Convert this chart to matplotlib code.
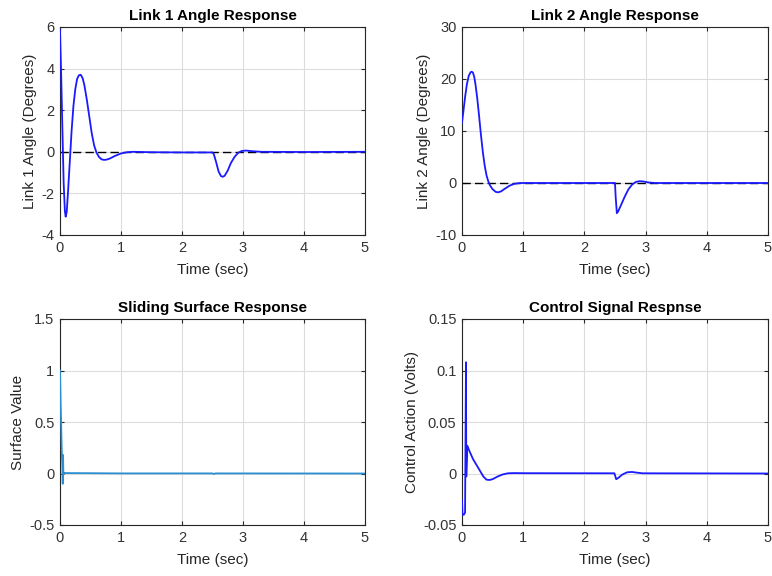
import numpy as np
import matplotlib
matplotlib.use('Agg')
import matplotlib.pyplot as plt

plt.rcParams['font.family'] = ['Liberation Sans', 'DejaVu Sans']

# link 1 angle (deg)
t_link1 = [0.00, 0.02, 0.04, 0.06, 0.08, 0.093, 0.11, 0.13, 0.16, 0.19, 0.22, 0.25,
           0.28, 0.31, 0.34, 0.37, 0.40, 0.44, 0.48, 0.52, 0.56, 0.60, 0.64, 0.68,
           0.72, 0.76, 0.82, 0.90, 1.00, 1.10, 1.20, 1.50, 2.00, 2.50, 2.52, 2.56,
           2.60, 2.64, 2.67, 2.70, 2.75, 2.80, 2.86, 2.92, 2.98, 3.05, 3.15, 3.30,
           4.00, 5.00]
link1 = [5.85, 3.6, 1.0, -1.5, -2.85, -3.12, -2.9, -2.0, -0.5, 1.0, 2.2, 3.0,
         3.5, 3.68, 3.70, 3.55, 3.2, 2.5, 1.7, 0.9, 0.3, -0.05, -0.25, -0.36,
         -0.39, -0.38, -0.32, -0.2, -0.08, -0.02, 0.0, -0.02, -0.03, -0.03, -0.1, -0.5,
         -0.95, -1.17, -1.2, -1.15, -0.9, -0.55, -0.25, -0.05, 0.04, 0.06, 0.03, 0.0,
         -0.01, 0.0]

# link 2 angle (deg)
t_link2 = [0.00, 0.02, 0.05, 0.08, 0.11, 0.14, 0.16, 0.18, 0.20, 0.22, 0.25, 0.28,
           0.31, 0.34, 0.37, 0.40, 0.43, 0.46, 0.50, 0.55, 0.59, 0.64, 0.70, 0.78,
           0.86, 0.95, 2.50, 2.51, 2.53, 2.55, 2.60, 2.66, 2.72, 2.78, 2.84, 2.90,
           2.96, 3.05, 3.15, 5.00]
link2 = [11.6, 13.5, 16.5, 19.0, 20.6, 21.3, 21.4, 21.2, 20.4, 19.0, 16.2, 12.8,
         9.2, 6.0, 3.4, 1.5, 0.3, -0.5, -1.2, -1.7, -1.8, -1.6, -1.1, -0.5,
         -0.15, 0.0, 0.0, -2.5, -5.8, -5.5, -4.2, -2.6, -1.2, -0.3, 0.2, 0.35,
         0.3, 0.1, 0.0, 0.0]

# sliding surface
t_surf = [0.00, 0.01, 0.02, 0.03, 0.04, 0.045, 0.05, 0.055, 0.07, 0.10, 0.50, 1.00,
          2.50, 2.52, 2.55, 5.00]
surf = [1.0, 0.7, 0.45, 0.2, 0.03, -0.10, 0.18, 0.0, 0.005, 0.004, 0.003, 0.001,
        0.001, -0.005, 0.001, 0.0]

# control signal (V)
t_ctrl = [0.000, 0.008, 0.030, 0.050, 0.065, 0.070, 0.087, 0.12, 0.18, 0.24, 0.30,
          0.35, 0.40, 0.45, 0.50, 0.58, 0.66, 0.75, 0.85, 1.00, 2.49, 2.52, 2.56,
          2.62, 2.70, 2.78, 2.86, 2.95, 5.00]
ctrl = [-0.026, -0.040, -0.040, -0.038, 0.108, -0.003, 0.027, 0.022, 0.014, 0.008, 0.002,
        -0.003, -0.006, -0.0063, -0.0055, -0.003, -0.001, 0.0002, 0.0004, 0.0003, 0.0002, -0.0056, -0.004,
        -0.001, 0.0012, 0.0015, 0.0008, 0.0002, 0.0]

panels = [
    dict(t=t_link1, y=link1, title='Link 1 Angle Response', ylabel='Link 1 Angle (Degrees)',
         ylim=(-4, 6), yticks=[-4, -2, 0, 2, 4, 6], ref=True, color='#1a1aff',
         rect=[60/772, 1-235/576, 305/772, 208/576]),
    dict(t=t_link2, y=link2, title='Link 2 Angle Response', ylabel='Link 2 Angle (Degrees)',
         ylim=(-10, 30), yticks=[-10, 0, 10, 20, 30], ref=True, color='#1a1aff',
         rect=[462/772, 1-235/576, 306/772, 208/576]),
    dict(t=t_surf, y=surf, title='Sliding Surface Response', ylabel='Surface Value',
         ylim=(-0.5, 1.5), yticks=[-0.5, 0, 0.5, 1, 1.5], ref=False, color='#2a8fd0',
         rect=[60/772, 1-525/576, 305/772, 206/576]),
    dict(t=t_ctrl, y=ctrl, title='Control Signal Respnse', ylabel='Control Action (Volts)',
         ylim=(-0.05, 0.15), yticks=[-0.05, 0, 0.05, 0.1, 0.15], ref=False, color='#1a1aff',
         rect=[462/772, 1-525/576, 306/772, 206/576]),
]

fig = plt.figure(figsize=(7.72, 5.76), dpi=100)

for p in panels:
    ax = fig.add_axes(p['rect'])
    ax.plot(p['t'], p['y'], color=p['color'], lw=1.3, zorder=3)
    if p['ref']:
        ax.axhline(0, color='black', lw=1.0, ls=(0, (6, 3)), zorder=2)
    ax.set_xlim(0, 5)
    ax.set_ylim(*p['ylim'])
    ax.set_xticks([0, 1, 2, 3, 4, 5])
    ax.set_yticks(p['yticks'])
    ax.set_yticklabels(['{:g}'.format(v) for v in p['yticks']])
    ax.grid(True, color='#dcdcdc', lw=0.8)
    ax.set_axisbelow(True)
    for s in ax.spines.values():
        s.set_color('#262626')
        s.set_linewidth(0.8)
    ax.tick_params(direction='in', length=3, width=0.8, colors='#262626',
                   labelsize=10.5, labelcolor='#333333', top=True, right=True, pad=4)
    ax.set_title(p['title'], fontsize=11, fontweight='bold', pad=5)
    ax.set_xlabel('Time (sec)', fontsize=11, color='#262626', labelpad=6)
    ax.set_ylabel(p['ylabel'], fontsize=11, color='#262626', labelpad=3)

fig.savefig('out.png', dpi=100)
